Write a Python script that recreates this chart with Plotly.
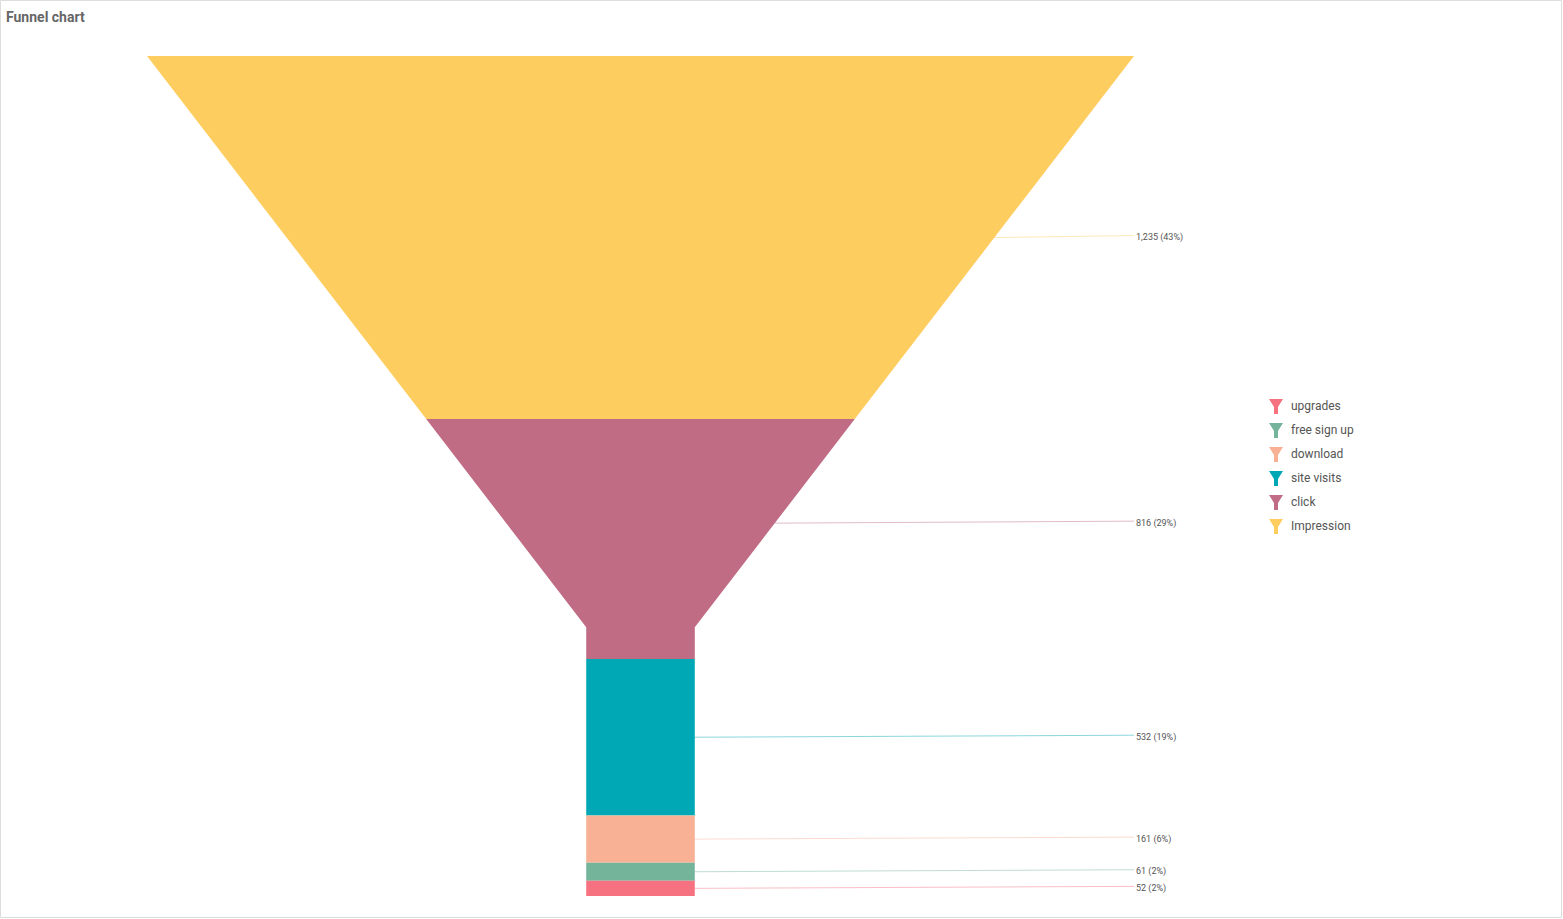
import plotly.graph_objects as go

# ---- data ----
stages = ["Impression", "click", "site visits", "download", "free sign up", "upgrades"]
values = [1235, 816, 532, 161, 61, 52]
colors = ["#FECD60", "#C06C84", "#00A8B5", "#F8B195", "#74B49B", "#F67280"]
title_text = "Funnel chart"

# ---- layout geometry (figure pixels) ----
W, H = 1563, 919
TOP_PX, BOT_PX = 56, 896
LEFT_PX, RIGHT_PX = 147, 1134
NECK_WIDTH = 0.11      # fraction of top width
NECK_HEIGHT = 0.32     # fraction of total height

total = sum(values)
neck_y = total * (1 - NECK_HEIGHT)
top_half = 0.5
neck_half = NECK_WIDTH / 2


def half_width(y):
    if y >= neck_y:
        return neck_half
    return top_half - (top_half - neck_half) * y / neck_y


fig = go.Figure()

cum = 0
label_pos = []
for name, v, c in zip(stages, values, colors):
    y0, y1 = cum, cum + v
    ys = [y0]
    if y0 < neck_y < y1:
        ys.append(neck_y)
    ys.append(y1)
    xs_left = [-half_width(y) for y in ys]
    xs_right = [half_width(y) for y in reversed(ys)]
    px = xs_left + xs_right + [xs_left[0]]
    py = ys + list(reversed(ys)) + [ys[0]]
    fig.add_trace(go.Scatter(
        x=px, y=py, mode="lines", fill="toself", fillcolor=c,
        line=dict(width=0, color=c), name=name, showlegend=False,
        hoverinfo="name",
    ))
    if y0 < neck_y < y1:
        ly = (y0 + neck_y) / 2
    else:
        ly = (y0 + y1) / 2
    label_pos.append(ly)
    cum = y1

# leader lines and labels
px_per_val = (BOT_PX - TOP_PX) / total
rise = 2 / px_per_val
for name, v, c, ly in zip(stages, values, colors, label_pos):
    fig.add_trace(go.Scatter(
        x=[half_width(ly), top_half], y=[ly, ly - rise], mode="lines",
        line=dict(color=c, width=1), opacity=0.45, showlegend=False,
        hoverinfo="skip",
    ))
    pct = round(v / total * 100)
    fig.add_annotation(
        x=top_half, y=ly, xref="x", yref="y",
        text=f"{v:,} ({pct}%)", showarrow=False, xanchor="left", yanchor="middle",
        xshift=0, font=dict(family="Roboto", size=9, color="#555555"),
    )

shapes = []
# border
shapes.append(dict(type="rect", xref="paper", yref="paper",
                   x0=0.5 / W, x1=(W - 1.5) / W, y0=1 - (H - 1.5) / H, y1=1 - 0.5 / H,
                   line=dict(color="#DDDDDD", width=1), fillcolor="rgba(0,0,0,0)"))

# custom legend (reverse order)
LEG_X = 1269
LEG_Y0 = 406
LEG_DY = 24


def fx(p):
    return p / W


def fy(p):
    return 1 - p / H


for i, (name, c) in enumerate(reversed(list(zip(stages, colors)))):
    cy = LEG_Y0 + i * LEG_DY
    pts = [(LEG_X, cy - 7), (LEG_X + 14, cy - 7), (LEG_X + 9, cy + 1),
           (LEG_X + 9, cy + 8), (LEG_X + 5, cy + 8), (LEG_X + 5, cy + 1)]
    path = "M " + " L ".join(f"{fx(x):.5f},{fy(y):.5f}" for x, y in pts) + " Z"
    shapes.append(dict(type="path", xref="paper", yref="paper", path=path,
                       fillcolor=c, line=dict(width=0)))
    fig.add_annotation(
        x=fx(LEG_X + 20), y=fy(cy), xref="paper", yref="paper", text=name,
        showarrow=False, xanchor="left", yanchor="middle",
        font=dict(family="Roboto", size=12, color="#555555"),
    )

# title
fig.add_annotation(
    x=fx(4), y=fy(17), xref="paper", yref="paper", text=f"<b>{title_text}</b>",
    showarrow=False, xanchor="left", yanchor="middle",
    font=dict(family="Roboto", size=14, color="#666666"),
)

fig.update_layout(
    width=W, height=H,
    margin=dict(l=0, r=0, t=0, b=0),
    paper_bgcolor="white", plot_bgcolor="white",
    shapes=shapes,
    xaxis=dict(domain=[LEFT_PX / W, RIGHT_PX / W], range=[-0.5, 0.5],
               visible=False, fixedrange=True),
    yaxis=dict(domain=[1 - BOT_PX / H, 1 - TOP_PX / H], range=[total, 0],
               visible=False, fixedrange=True),
    showlegend=False,
)

fig.write_html(
    "out.html",
    config={"displayModeBar": False},
    post_script="document.body.style.margin='0px';document.body.style.overflow='hidden';",
)
